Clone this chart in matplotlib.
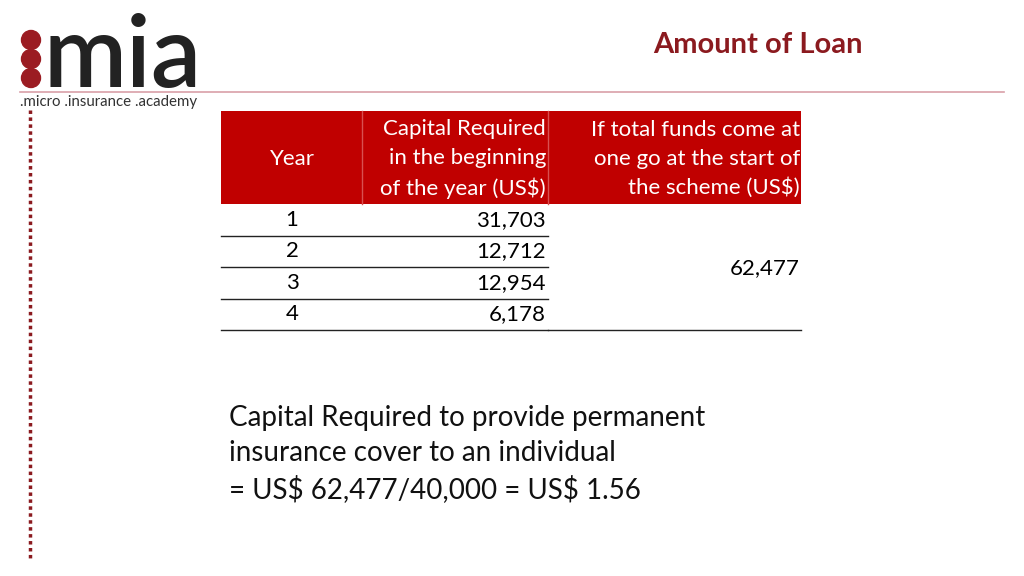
import matplotlib.pyplot as plt
from matplotlib.patches import Rectangle, Circle

years = ["1", "2", "3", "4"]
capital = [31703, 12712, 12954, 6178]
total_funds = 62477
headers = ["Year", "Capital Required\nin the beginning\nof the year (US\\$)",
           "If total funds come at\none go at the start of\nthe scheme (US\\$)"]
note = "Capital Required to provide permanent\ninsurance cover to an individual\n= US\\$ 62,477/40,000 = US\\$ 1.56"

RED = "#c00000"
DARK = "#8b1a1f"
plt.rcParams["font.family"] = "Lato"

fig = plt.figure(figsize=(10.24, 5.76), dpi=100)
ax = fig.add_axes([0, 0, 1, 1])
ax.set_xlim(0, 1024)
ax.set_ylim(576, 0)
ax.axis("off")

# logo
for cy in (40, 59, 78):
    ax.add_patch(Circle((31, cy), 9.5, color="#9b1c22"))
ax.text(44, 87, "mia", fontsize=72, fontweight="semibold", color="#222222",
        va="baseline", ha="left")
ax.plot([20, 1004], [92, 92], color="#d9a0a8", lw=1.2)
ax.text(20, 102, ".micro .insurance .academy", fontsize=10.8, color="#333333", va="center")
ax.plot([30] * 2, [110, 560], color=DARK, lw=2.5, ls=(0, (1, 1)))

ax.text(758, 45, "Amount of Loan", fontsize=21, fontweight="bold", color=DARK,
        ha="center", va="center")

# table header
ax.add_patch(Rectangle((221, 111), 580, 93, color=RED, lw=0))
for x in (362, 548):
    ax.plot([x, x], [111, 204], color="#d85050", lw=1)
ax.text(292, 159, headers[0], fontsize=16, color="white", ha="center", va="center")
ax.text(546, 159, headers[1], fontsize=16, color="white", ha="right", va="center",
        linespacing=1.55, multialignment="right")
ax.text(800, 159, headers[2], fontsize=16, color="white", ha="right", va="center",
        linespacing=1.55, multialignment="right")

row_h = 31.5
for i, (yr, val) in enumerate(zip(years, capital)):
    yc = 204 + row_h * (i + 0.5)
    ax.text(292, yc, yr, fontsize=16, ha="center", va="center")
    ax.text(546, yc, f"{val:,}", fontsize=16, ha="right", va="center")
    yb = 204 + row_h * (i + 1)
    ax.plot([221, 548], [yb, yb], color="#222222", lw=1)
ax.plot([548, 801], [330, 330], color="#222222", lw=1)
ax.text(800, 268, f"{total_funds:,}", fontsize=16, ha="right", va="center")

ax.text(229, 454, note, fontsize=20, ha="left", va="center", linespacing=1.42,
        color="#111111")

fig.savefig("out.png", dpi=100)
